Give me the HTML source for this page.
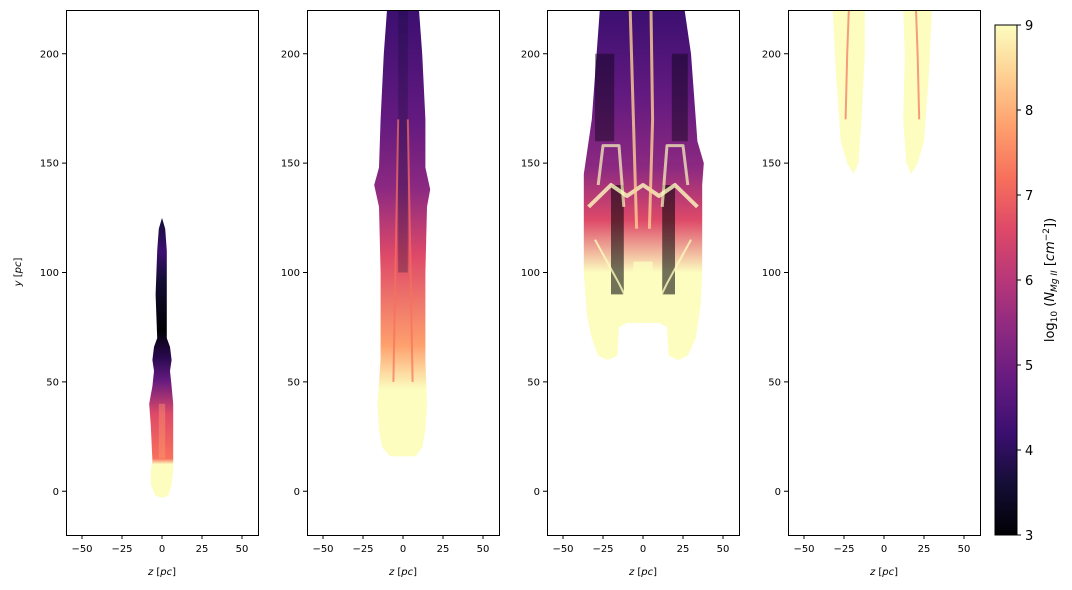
<!DOCTYPE html>
<html><head><meta charset="utf-8"><style>
body{margin:0;background:#fff;font-family:"Liberation Sans","DejaVu Sans",sans-serif}
svg{display:block}
text{font-family:"DejaVu Sans","Liberation Sans",sans-serif;font-size:10px;fill:#000}
</style></head><body>
<svg id="fig" width="1072" height="590" viewBox="0 0 1072 590">
<defs>
<linearGradient id="cbar" x1="0" y1="1" x2="0" y2="0">
<stop offset="0" stop-color="#000004"/><stop offset="0.1" stop-color="#140e36"/><stop offset="0.2" stop-color="#3b0f70"/><stop offset="0.3" stop-color="#641a80"/><stop offset="0.4" stop-color="#8c2981"/><stop offset="0.5" stop-color="#b73779"/><stop offset="0.6" stop-color="#de4968"/><stop offset="0.7" stop-color="#f7705c"/><stop offset="0.8" stop-color="#fe9f6d"/><stop offset="0.9" stop-color="#fecf92"/><stop offset="1" stop-color="#fcfdbf"/>
</linearGradient>
<linearGradient id="g1" x1="0" y1="1" x2="0" y2="0">
<stop offset="0" stop-color="#fcfdbf"/><stop offset="0.12" stop-color="#fcfdbf"/><stop offset="0.14" stop-color="#f7705c"/><stop offset="0.3" stop-color="#de4968"/><stop offset="0.42" stop-color="#641a80"/><stop offset="0.5" stop-color="#2a0a50"/><stop offset="0.6" stop-color="#000004"/><stop offset="0.78" stop-color="#140e36"/><stop offset="0.88" stop-color="#3b0f70"/><stop offset="1" stop-color="#140e36"/>
</linearGradient>
<linearGradient id="g2" x1="0" y1="1" x2="0" y2="0">
<stop offset="0" stop-color="#fcfdbf"/><stop offset="0.15" stop-color="#fcfdbf"/><stop offset="0.25" stop-color="#fe9f6d"/><stop offset="0.45" stop-color="#de4968"/><stop offset="0.6" stop-color="#8c2981"/><stop offset="0.75" stop-color="#641a80"/><stop offset="1" stop-color="#3b0f70"/>
</linearGradient>
<linearGradient id="g3" x1="0" y1="1" x2="0" y2="0">
<stop offset="0" stop-color="#fcfdbf"/><stop offset="0.25" stop-color="#fcfdbf"/><stop offset="0.4" stop-color="#de4968"/><stop offset="0.55" stop-color="#8c2981"/><stop offset="0.75" stop-color="#641a80"/><stop offset="1" stop-color="#3b0f70"/>
</linearGradient>
</defs>
<g id="panels"></g>
<g id="cb"></g>
</svg>
<script>
const NS="http://www.w3.org/2000/svg";
// axis data
const xTicks=[-50,-25,0,25,50];
const yTicks=[0,50,100,150,200];
const xDomain=[-60,60];
const yDomain=[-20,220];
const cbTicks=[3,4,5,6,7,8,9];
// shape outlines [z, y] in data units per panel
const panel1Outline=[[0,-3],[-4,-2],[-7,3],[-7,10],[-6,14],[-7,30],[-8,40],[-6,48],[-5,55],[-6,60],[-5,66],[-3,70],[-4,90],[-3,110],[-2,120],[0,125],[2,120],[3,110],[3,90],[3,70],[5,66],[6,60],[5,55],[6,48],[7,40],[7,20],[7,10],[6,3],[4,-2]];
const panel2Outline=[[0,16],[-8,16],[-13,20],[-15,28],[-16,40],[-14,60],[-14,100],[-15,130],[-18,140],[-15,148],[-14,170],[-12,200],[-10,220],[10,220],[12,200],[14,170],[14,148],[17,138],[15,130],[14,100],[14,60],[15,40],[14,28],[12,20],[8,16]];
const panel3Outline=[[-27,220],[-29,200],[-32,170],[-37,145],[-37,100],[-35,80],[-32,70],[-28,62],[-22,60],[-16,62],[-15,75],[-10,77],[10,77],[15,75],[16,62],[22,60],[28,62],[33,70],[36,85],[37,100],[37,140],[38,150],[34,160],[30,200],[26,220]];
const panel4Left=[[-32,220],[-30,190],[-27,160],[-23,150],[-19,145],[-16,150],[-14,170],[-12,200],[-12,220]];
const panel4Right=[[12,220],[13,200],[12,170],[14,150],[17,145],[21,150],[25,160],[28,190],[30,220]];
const panelLeft=[66,307,547,788];
const W=192, T=10, B=535;
function sx(p,v){return panelLeft[p]+(v-xDomain[0])/(xDomain[1]-xDomain[0])*W;}
function sy(v){return B-(v-yDomain[0])/(yDomain[1]-yDomain[0])*(B-T);}
function el(tag,attrs,parent){const e=document.createElementNS(NS,tag);for(const k in attrs)e.setAttribute(k,attrs[k]);parent.appendChild(e);return e;}
function poly(p,pts,fill,parent){return el('polygon',{points:pts.map(q=>sx(p,q[0])+','+sy(q[1])).join(' '),fill:fill},parent);}
function rect(p,z0,z1,y0,y1,fill,parent,op){return el('rect',{x:sx(p,z0),y:sy(y1),width:sx(p,z1)-sx(p,z0),height:sy(y0)-sy(y1),fill:fill,opacity:op||1},parent);}
function line(p,pts,col,w,parent,op){return el('polyline',{points:pts.map(q=>sx(p,q[0])+','+sy(q[1])).join(' '),fill:'none',stroke:col,'stroke-width':w,'stroke-linejoin':'round',opacity:op||1},parent);}
const root=document.getElementById('panels');
for(let p=0;p<4;p++){
  const g=el('g',{},root);
  
  
  const cid='clip'+p;
  const cp=el('clipPath',{id:cid},g);
  el('rect',{x:panelLeft[p],y:T,width:W,height:B-T},cp);
  const img=el('g',{'clip-path':'url(#'+cid+')'},g);
  
  
  if(p===0){
    poly(0,panel1Outline,'url(#g1)',img);
    rect(0,-2,2,15,40,'#fe9f6d',img,0.4);
  } else if(p===1){
    poly(1,panel2Outline,'url(#g2)',img);
    rect(1,-3,3,100,220,'#140e36',img,0.3);
    line(1,[[-6,50],[-5,90],[-4,130],[-3,170]],'#f7705c',2,img,0.7);
    line(1,[[6,50],[5,90],[4,130],[3,170]],'#f7705c',2,img,0.7);
  } else if(p===2){
    poly(2,panel3Outline,'url(#g3)',img);
    rect(2,-20,-12,90,140,'#000004',img,0.55);
    rect(2,12,20,90,140,'#000004',img,0.55);
    rect(2,-30,-18,160,200,'#000004',img,0.4);
    rect(2,18,28,160,200,'#000004',img,0.4);
    line(2,[[-34,130],[-20,140],[-10,135],[0,140],[10,135],[20,140],[34,130]],'#fcfdbf',4,img,0.8);
    line(2,[[-28,140],[-25,158],[-15,158],[-12,130]],'#fcfdbf',3,img,0.7);
    line(2,[[28,140],[25,158],[15,158],[12,130]],'#fcfdbf',3,img,0.7);
    line(2,[[-4,120],[-6,170],[-8,220]],'#fecf92',3,img,0.8);
    line(2,[[4,120],[6,170],[5,220]],'#fecf92',3,img,0.8);
    line(2,[[-30,115],[-15,95],[-5,80]],'#fcfdbf',2,img,0.8);
    line(2,[[30,115],[15,95],[5,80]],'#fcfdbf',2,img,0.8);
    rect(2,-6,6,78,105,'#fcfdbf',img,0.8);
  } else {
    poly(3,panel4Left,'#fcfdbf',img);
    poly(3,panel4Right,'#fcfdbf',img);
    line(3,[[-24,170],[-23,200],[-22,220]],'#f7705c',2,img,0.7);
    line(3,[[22,170],[21,200],[20,220]],'#f7705c',2,img,0.7);
  }
  const fr=el('rect',{x:panelLeft[p]+0.5,y:T+0.5,width:W,height:B-T,fill:'none',stroke:'#000','stroke-width':1},g);
  
  
  xTicks.forEach(t=>{
    const x=sx(p,t);
    el('line',{x1:x,y1:B,x2:x,y2:B+4,stroke:'#000'},g);
    const tx=el('text',{x:x,y:B+17,'text-anchor':'middle'},g);
    tx.textContent=(t<0?'\u2212'+(-t):t);
    
    
  });
  yTicks.forEach(t=>{
    const y=sy(t);
    el('line',{x1:panelLeft[p],y1:y,x2:panelLeft[p]-4,y2:y,stroke:'#000'},g);
    const ty=el('text',{x:panelLeft[p]-7,y:y+3.5,'text-anchor':'end'},g);
    ty.textContent=t;
    
    
  });
  const xl=el('text',{x:sx(p,0),y:575,'text-anchor':'middle'},g);
  xl.innerHTML='<tspan font-style="italic">z</tspan> [<tspan font-style="italic">pc</tspan>]';
  
  
}
const yl=el('text',{x:0,y:0,'text-anchor':'middle',transform:'translate(21,272) rotate(-90)'},root);
yl.innerHTML='<tspan font-style="italic">y</tspan> [<tspan font-style="italic">pc</tspan>]';


const cb=document.getElementById('cb');
const cX=995,cW=22,cT=25,cB=535;
const cbRect=el('rect',{x:cX,y:cT,width:cW,height:cB-cT,fill:'url(#cbar)',stroke:'#000','stroke-width':1},cb);


cbTicks.forEach(t=>{
  const y=cB-(t-3)/6*(cB-cT);
  el('line',{x1:cX+cW,y1:y,x2:cX+cW+4,y2:y,stroke:'#000'},cb);
  const tt=el('text',{x:cX+cW+8,y:y+5,style:'font-size:13px'},cb);
  tt.textContent=t;
  
  
});
const cl=el('text',{x:0,y:0,'text-anchor':'middle',style:'font-size:13px',transform:'translate(1054,280) rotate(-90)'},cb);
cl.innerHTML='log<tspan style="font-size:9px" dy="3">10</tspan><tspan dy="-3">  (</tspan><tspan font-style="italic">N</tspan><tspan style="font-size:9px" dy="3" font-style="italic">Mg II</tspan><tspan dy="-3"> [</tspan><tspan font-style="italic">cm</tspan><tspan style="font-size:9px" dy="-5">−2</tspan><tspan dy="5">])</tspan>';


</script>
</body></html>
